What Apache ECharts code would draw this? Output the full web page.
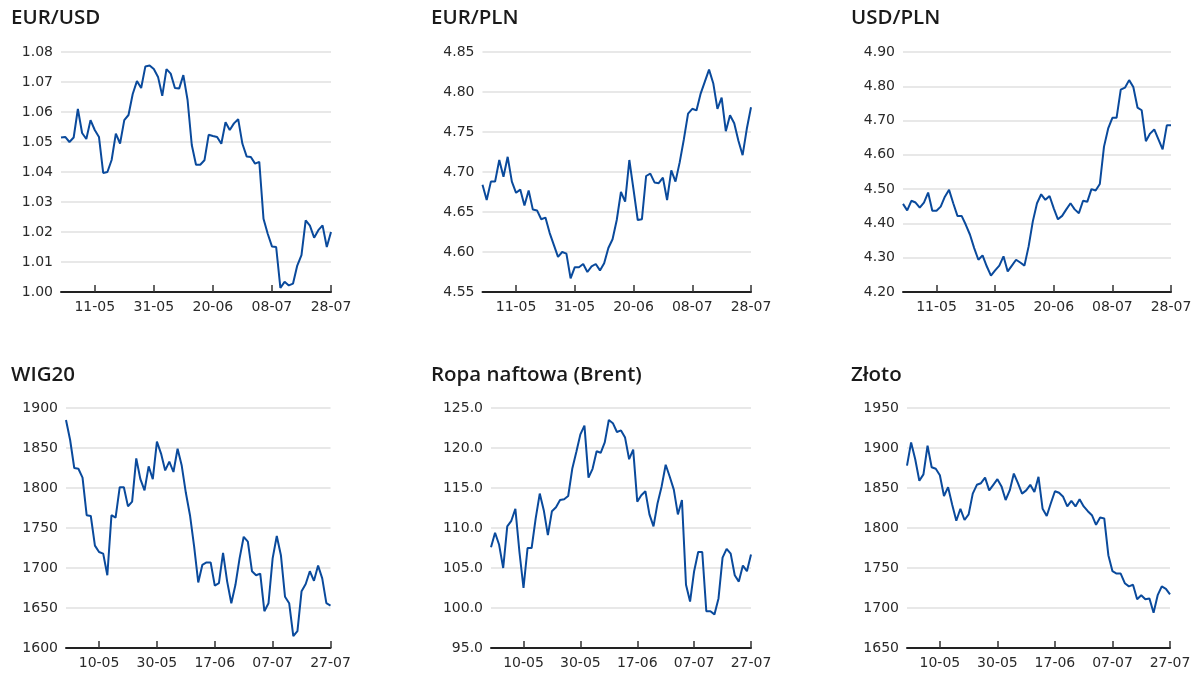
<!DOCTYPE html>
<html><head><meta charset="utf-8">
<script src="https://cdn.jsdelivr.net/npm/echarts@6/dist/echarts.min.js"></script>
<style>html,body{margin:0;padding:0;background:#fff}#c{width:1200px;height:683px}</style>
</head><body><div id="c"></div>
<script>
// Category dates (business days)
const datesTop = ['29-04','02-05','03-05','04-05','05-05','06-05','09-05','10-05','11-05','12-05','13-05','16-05','17-05','18-05','19-05','20-05','23-05','24-05','25-05','26-05','27-05','30-05','31-05','01-06','02-06','03-06','06-06','07-06','08-06','09-06','10-06','13-06','14-06','15-06','16-06','17-06','20-06','21-06','22-06','23-06','24-06','27-06','28-06','29-06','30-06','01-07','04-07','05-07','06-07','07-07','08-07','11-07','12-07','13-07','14-07','15-07','18-07','19-07','20-07','21-07','22-07','25-07','26-07','27-07','28-07'];
const datesBottom = ['28-04','29-04','02-05','03-05','04-05','05-05','06-05','09-05','10-05','11-05','12-05','13-05','16-05','17-05','18-05','19-05','20-05','23-05','24-05','25-05','26-05','27-05','30-05','31-05','01-06','02-06','03-06','06-06','07-06','08-06','09-06','10-06','13-06','14-06','15-06','16-06','17-06','20-06','21-06','22-06','23-06','24-06','27-06','28-06','29-06','30-06','01-07','04-07','05-07','06-07','07-07','08-07','11-07','12-07','13-07','14-07','15-07','18-07','19-07','20-07','21-07','22-07','25-07','26-07','27-07'];

const titles = ['EUR/USD','EUR/PLN','USD/PLN','WIG20','Ropa naftowa (Brent)','Złoto'];

const eurusd = [1.0515,1.0517,1.0500,1.0515,1.0610,1.0530,1.0510,1.0573,1.0540,1.0517,1.0397,1.0400,1.0440,1.0528,1.0495,1.0573,1.0590,1.0660,1.0703,1.0680,1.0752,1.0755,1.0743,1.0717,1.0654,1.0743,1.0728,1.0680,1.0678,1.0723,1.0640,1.0490,1.0424,1.0424,1.0439,1.0524,1.0520,1.0517,1.0494,1.0566,1.0540,1.0562,1.0576,1.0494,1.0452,1.0450,1.0428,1.0434,1.0244,1.0194,1.0152,1.0150,1.0014,1.0034,1.0022,1.0028,1.0088,1.0123,1.0239,1.0221,1.0181,1.0206,1.0222,1.0150,1.0200];
const eurpln = [4.684,4.665,4.688,4.688,4.715,4.694,4.719,4.688,4.674,4.678,4.658,4.677,4.653,4.652,4.641,4.643,4.624,4.609,4.594,4.600,4.598,4.567,4.581,4.581,4.585,4.575,4.582,4.585,4.577,4.586,4.605,4.616,4.640,4.675,4.663,4.715,4.678,4.640,4.641,4.695,4.698,4.687,4.686,4.693,4.665,4.702,4.688,4.712,4.741,4.773,4.779,4.777,4.798,4.813,4.828,4.811,4.779,4.793,4.751,4.771,4.761,4.739,4.721,4.754,4.781];
const usdpln = [4.457,4.438,4.466,4.461,4.446,4.461,4.490,4.437,4.437,4.449,4.478,4.498,4.459,4.422,4.422,4.396,4.367,4.328,4.294,4.307,4.275,4.248,4.263,4.277,4.304,4.260,4.277,4.294,4.286,4.277,4.333,4.406,4.459,4.485,4.469,4.480,4.444,4.412,4.422,4.441,4.459,4.441,4.430,4.466,4.463,4.500,4.496,4.515,4.624,4.677,4.708,4.708,4.790,4.796,4.818,4.798,4.738,4.730,4.640,4.662,4.674,4.645,4.616,4.686,4.686];
const wig20 = [1885,1860,1825,1824,1813,1766,1765,1728,1720,1718,1691,1766,1763,1801,1801,1777,1783,1837,1811,1797,1827,1811,1858,1843,1822,1833,1820,1849,1828,1794,1766,1727,1682,1704,1707,1707,1678,1681,1719,1683,1656,1679,1712,1739,1733,1696,1691,1693,1646,1656,1712,1740,1716,1664,1656,1615,1621,1671,1680,1696,1684,1703,1687,1656,1653];
const brent = [107.6,109.4,107.9,105.0,110.2,110.9,112.4,107.0,102.5,107.5,107.5,111.2,114.3,112.2,109.1,112.1,112.6,113.5,113.6,114.0,117.4,119.5,121.7,122.8,116.3,117.4,119.6,119.4,120.7,123.5,123.1,122.0,122.2,121.3,118.6,119.8,113.3,114.1,114.6,111.7,110.2,113.1,115.2,117.9,116.4,114.8,111.7,113.5,102.9,100.8,104.6,107.0,107.0,99.6,99.6,99.2,101.2,106.3,107.4,106.8,104.1,103.3,105.3,104.6,106.7];
const zloto = [1878,1907,1886,1859,1867,1903,1876,1874,1866,1840,1851,1829,1809,1824,1810,1817,1843,1854,1856,1863,1847,1854,1861,1852,1835,1847,1868,1856,1843,1847,1854,1845,1864,1824,1815,1831,1846,1844,1839,1827,1834,1827,1836,1827,1821,1816,1804,1813,1812,1766,1746,1743,1743,1731,1727,1729,1711,1716,1711,1712,1694,1716,1727,1724,1717];

const yMins = [1.00, 4.55, 4.20, 1600, 95, 1650];
const yMaxs = [1.08, 4.85, 4.90, 1900, 125, 1950];
const yIntervals = [0.01, 0.05, 0.10, 50, 5, 50];
const yDecimals = [2, 2, 2, 0, 1, 0];

const seriesData = [eurusd, eurpln, usdpln, wig20, brent, zloto];
const catData = [datesTop, datesTop, datesTop, datesBottom, datesBottom, datesBottom];

// layout (pixels)
const gridBoxes = [
  {left: 61, top: 52, width: 270, height: 240},
  {left: 482.5, top: 52, width: 268.5, height: 240},
  {left: 903, top: 52, width: 268, height: 240},
  {left: 66, top: 408, width: 264.5, height: 240},
  {left: 491, top: 408, width: 260, height: 240},
  {left: 907, top: 408, width: 263, height: 240}
];
const titlePos = [
  {left: 11, top: 8}, {left: 431, top: 8}, {left: 851, top: 8},
  {left: 11, top: 365}, {left: 431, top: 365}, {left: 851, top: 365}
];

const lineColor = '#0a4a9c';
const labelFont = 'DejaVu Sans';
const tickFn = (i) => (64 - i) % 14 === 0;

const option = {
  animation: false,
  backgroundColor: '#ffffff',
  title: titles.map((t, k) => ({
    text: t, left: titlePos[k].left, top: titlePos[k].top, padding: 0,
    textStyle: {fontFamily: 'Open Sans', fontSize: 20.5, fontWeight: 600, color: '#1a1a1a'}
  })),
  grid: gridBoxes.map(g => Object.assign({containLabel: false}, g)),
  xAxis: catData.map((d, k) => ({
    type: 'category', gridIndex: k, data: d, boundaryGap: false,
    axisLine: {show: true, lineStyle: {color: '#222', width: 2}},
    axisTick: {show: true, inside: true, length: 7, interval: tickFn, lineStyle: {color: '#333', width: 1.5}},
    axisLabel: {interval: tickFn, color: '#2a2a2a', fontFamily: labelFont, fontSize: 14, margin: 8},
    splitLine: {show: false}
  })),
  yAxis: yMins.map((mn, k) => ({
    type: 'value', gridIndex: k, min: mn, max: yMaxs[k], interval: yIntervals[k],
    axisLine: {show: false}, axisTick: {show: false},
    axisLabel: {color: '#2a2a2a', fontFamily: labelFont, fontSize: 14, margin: 8,
      formatter: v => Number(v).toFixed(yDecimals[k])},
    splitLine: {show: true, lineStyle: {color: '#e8e8e8', width: 2}}
  })),
  series: seriesData.map((d, k) => ({
    type: 'line', xAxisIndex: k, yAxisIndex: k, data: d,
    symbol: 'none', smooth: false,
    lineStyle: {color: lineColor, width: 2}
  }))
};

const chart = echarts.init(document.getElementById('c'), null, {renderer: 'canvas'});
chart.setOption(option);
</script>
</body></html>
